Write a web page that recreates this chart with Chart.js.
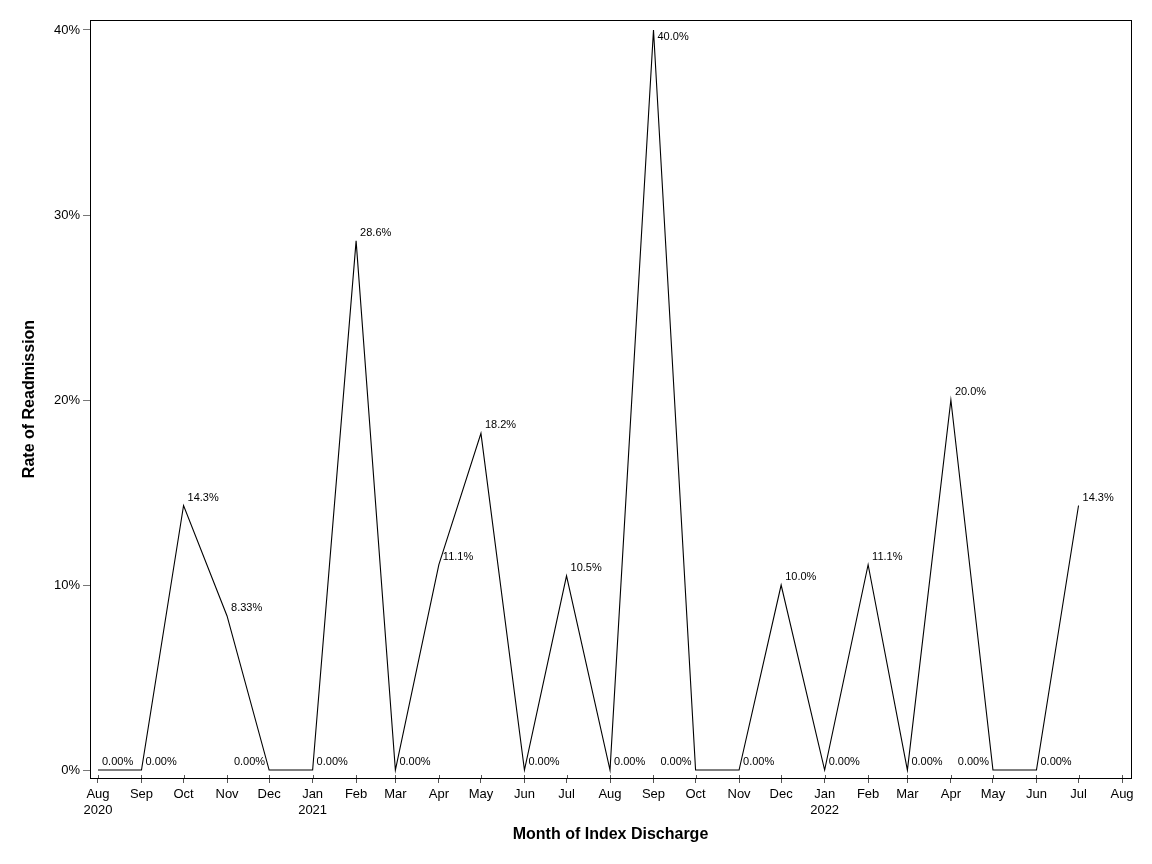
<!DOCTYPE html>
<html>
<head>
<meta charset="utf-8">
<title>Rate of Readmission</title>
<script src="https://cdn.jsdelivr.net/npm/chart.js@4.4.1/dist/chart.umd.min.js"></script>
<style>
  html, body { margin: 0; padding: 0; background: #fff; }
</style>
</head>
<body>
<canvas id="readmit_graph" width="1152" height="864"></canvas>
<script>
// data
const months = ['2020-08','2020-09','2020-10','2020-11','2020-12',
                '2021-01','2021-02','2021-03','2021-04','2021-05','2021-06',
                '2021-07','2021-08','2021-09','2021-10','2021-11','2021-12',
                '2022-01','2022-02','2022-03','2022-04','2022-05','2022-06','2022-07'];
const rates = [0, 0, 14.3, 8.33, 0, 0, 28.6, 0, 11.1, 18.2, 0, 10.5,
               0, 40.0, 0, 0, 10.0, 0, 11.1, 0, 20.0, 0, 0, 14.3];
const tickMonths = months.concat(['2022-08']);
const monthNames = ['Jan','Feb','Mar','Apr','May','Jun','Jul','Aug','Sep','Oct','Nov','Dec'];
const yTicks = [0, 10, 20, 30, 40];

const FONT = "'Liberation Sans', Arial, sans-serif";
const startMs = Date.UTC(2020, 7, 1);

function dayOf(ym) {
  const parts = ym.split('-');
  return (Date.UTC(+parts[0], +parts[1] - 1, 1) - startMs) / 86400000;
}

function tickLabel(ym, i) {
  const parts = ym.split('-');
  const name = monthNames[+parts[1] - 1];
  // year goes under the first tick and every January
  if ((i === 0 || parts[1] === '01') && i < tickMonths.length - 1) {
    return [name, parts[0]];
  }
  return name;
}

const points = months.map((m, i) => ({ x: dayOf(m), y: rates[i] }));

// frame round the plot area, plus the bit of each x tick that pokes inside
const framePlugin = {
  id: 'frame',
  afterDraw(chart) {
    const a = chart.chartArea;
    const ctx = chart.ctx;
    const xs = chart.scales.x;
    ctx.save();
    ctx.strokeStyle = '#555';
    ctx.lineWidth = 1;
    ctx.beginPath();
    tickMonths.forEach(m => {
      const px = Math.round(xs.getPixelForValue(dayOf(m))) + 0.5;
      ctx.moveTo(px, a.bottom);
      ctx.lineTo(px, a.bottom - 3);
    });
    ctx.stroke();
    ctx.strokeStyle = '#000';
    ctx.strokeRect(Math.round(a.left) + 0.5, Math.round(a.top) + 0.5,
                   Math.round(a.right - a.left), Math.round(a.bottom - a.top));
    ctx.restore();
  }
};

// value labels next to each point
const valueLabels = {
  id: 'valueLabels',
  afterDatasetsDraw(chart) {
    const ctx = chart.ctx;
    const meta = chart.getDatasetMeta(0);
    const top = chart.chartArea.top;
    ctx.save();
    ctx.font = '11px ' + FONT;
    ctx.fillStyle = '#000';
    ctx.textBaseline = 'middle';
    meta.data.forEach((pt, i) => {
      const v = rates[i];
      const text = v.toPrecision(3) + '%';
      const prev = i > 0 ? rates[i - 1] : 0;
      const next = i < rates.length - 1 ? rates[i + 1] : 0;
      // put the label on the left when the line comes down onto a flat stretch
      const onLeft = v === 0 && prev > 0 && next === 0;
      let y = pt.y - 8;
      if (y - 6 < top) y = pt.y + 7;
      if (onLeft) {
        ctx.textAlign = 'right';
        ctx.fillText(text, pt.x - 4, y);
      } else {
        ctx.textAlign = 'left';
        ctx.fillText(text, pt.x + 4, y);
      }
    });
    ctx.restore();
  }
};

const chart = new Chart(document.getElementById('readmit_graph'), {
  type: 'line',
  data: {
    datasets: [{
      data: points,
      borderColor: '#000',
      borderWidth: 1.1,
      pointRadius: 0,
      tension: 0,
      fill: false
    }]
  },
  options: {
    responsive: false,
    animation: false,
    devicePixelRatio: 1,
    layout: { padding: { left: 0, top: 20, right: 21, bottom: 0 } },
    plugins: {
      legend: { display: false },
      tooltip: { enabled: false }
    },
    scales: {
      x: {
        type: 'linear',
        min: -5.7,
        max: 736.4,
        afterFit(scale) { scale.height = 86; },
        afterBuildTicks(scale) {
          scale.ticks = tickMonths.map(m => ({ value: dayOf(m) }));
        },
        grid: { display: true, drawOnChartArea: false, tickLength: 5, tickColor: '#555', tickWidth: 1 },
        border: { display: false },
        ticks: {
          autoSkip: false,
          maxRotation: 0,
          padding: 4,
          color: '#000',
          font: { family: FONT, size: 13 },
          callback(value, index) { return tickLabel(tickMonths[index], index); }
        },
        title: {
          display: true,
          text: 'Month of Index Discharge',
          color: '#000',
          font: { family: FONT, size: 16, weight: 'bold' },
          padding: { top: 0, bottom: 20 }
        }
      },
      y: {
        min: -0.43,
        max: 40.54,
        afterFit(scale) { scale.width = 90; },
        afterBuildTicks(scale) {
          scale.ticks = yTicks.map(v => ({ value: v }));
        },
        grid: { display: true, drawOnChartArea: false, tickLength: 7, tickColor: '#777', tickWidth: 1 },
        border: { display: false },
        ticks: {
          padding: 3,
          color: '#000',
          font: { family: FONT, size: 13 },
          callback(value) { return value + '%'; }
        },
        title: {
          display: true,
          text: 'Rate of Readmission',
          color: '#000',
          font: { family: FONT, size: 16, weight: 'bold' },
          padding: { top: 20, bottom: 0 }
        }
      }
    }
  },
  plugins: [framePlugin, valueLabels]
});
</script>
</body>
</html>
